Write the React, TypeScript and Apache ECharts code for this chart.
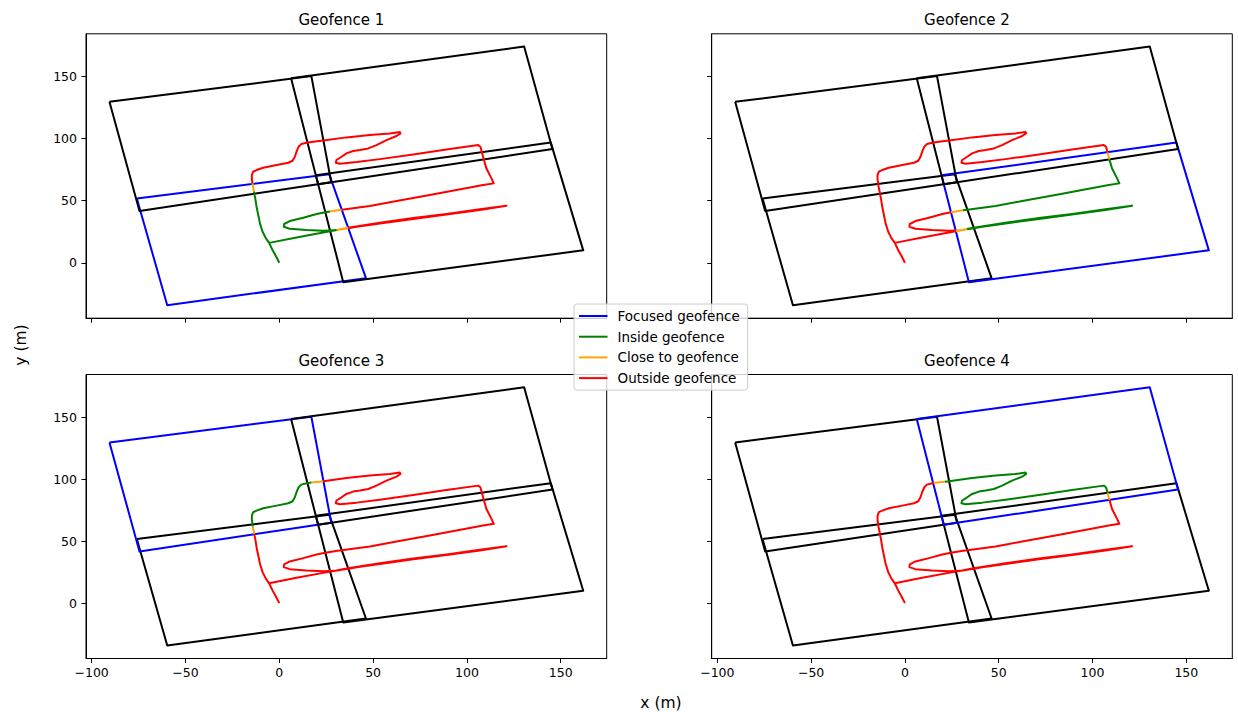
import React, { useEffect, useRef } from "react";
import * as echarts from "echarts";

// ---------- axis ranges & ticks ----------
const X_MIN = -103.0;
const X_MAX = 174.5;
const Y_MIN = -44.6;
const Y_MAX = 184.25;
const X_TICKS = [-100, -50, 0, 50, 100, 150];
const Y_TICKS = [0, 50, 100, 150];

const TITLES = ["Geofence 1", "Geofence 2", "Geofence 3", "Geofence 4"];
const LEGEND_NAMES = ["Focused geofence", "Inside geofence", "Close to geofence", "Outside geofence"];

// ---------- geofence polygons (x, y in m) ----------
const GEOFENCE_1 = [[-75.9, 51.7], [26.6, 71.3], [46.2, -12.4], [-59.7, -34.1]];
const GEOFENCE_2 = [[19.5, 70.4], [144.7, 96.7], [162.0, 10.0], [34.1, -15.6]];
const GEOFENCE_3 = [[-90.5, 129.5], [17.1, 150.2], [27.7, 64.8], [-74.5, 41.7]];
const GEOFENCE_4 = [[6.3, 148.4], [130.5, 174.0], [145.6, 91.5], [20.7, 63.2]];
const GEOFENCES = [GEOFENCE_1, GEOFENCE_2, GEOFENCE_3, GEOFENCE_4];

// ---------- vehicle track (x, y in m) ----------
const TRACK = [
  [0.0, 0.0], [-1.8, 5.4], [-3.6, 10.3], [-5.4, 16.0], [-7.1, 19.6],
  [-8.9, 25.0], [-10.3, 31.7], [-11.2, 38.4], [-12.1, 45.1], [-12.8, 51.8],
  [-13.3, 55.4], [-13.5, 57.4], [-14.1, 61.6], [-14.3, 64.0], [-14.6, 67.1],
  [-14.6, 70.6], [-13.9, 73.3], [-12.1, 74.6], [-8.6, 76.5], [-1.4, 78.6],
  [4.8, 80.5], [7.1, 82.1], [8.3, 85.3], [9.2, 89.4], [10.3, 93.4],
  [11.7, 95.5], [15.2, 96.8], [17.2, 97.2], [21.2, 97.9], [23.5, 98.3],
  [35.8, 100.9], [48.3, 102.8], [58.9, 104.1], [64.3, 105.2], [64.6, 104.1],
  [62.5, 102.0], [57.1, 98.7], [51.8, 94.7], [47.4, 92.0], [43.0, 90.7],
  [39.4, 89.9], [35.8, 88.0], [33.2, 85.3], [30.5, 82.7], [30.1, 80.5],
  [32.3, 79.7], [41.2, 81.0], [53.6, 83.4], [71.4, 87.2], [89.1, 91.2],
  [106.0, 94.7], [107.2, 93.4], [108.0, 89.0], [109.0, 83.2], [110.4, 75.9],
  [113.1, 67.9], [114.3, 63.9], [108.6, 62.5], [98.0, 59.6], [80.2, 54.5],
  [62.5, 49.7], [48.3, 45.6], [33.3, 42.7], [31.0, 42.2], [27.0, 41.3],
  [24.5, 40.6], [19.9, 39.2], [12.8, 36.3], [5.6, 33.6], [2.6, 31.2],
  [2.4, 29.0], [5.6, 27.4], [14.5, 26.3], [23.4, 25.8], [27.0, 26.0],
  [30.5, 26.3], [33.1, 27.1], [36.7, 28.2], [53.6, 32.2], [71.4, 36.0],
  [89.1, 39.2], [106.9, 43.0], [121.1, 45.9], [106.9, 42.5], [89.1, 38.8],
  [71.4, 35.3], [53.6, 31.6], [41.2, 28.9], [36.8, 27.8], [33.1, 26.9],
  [30.8, 26.3], [27.0, 25.4], [23.4, 24.4], [9.2, 20.4], [-5.4, 16.0],
];

// ---------- track state per subplot: [first segment index, state] ----------
const STATES_1 = [[0, "inside"], [11, "close"], [13, "outside"], [62, "close"], [64, "inside"], [75, "close"], [77, "outside"], [88, "close"], [90, "inside"]];
const STATES_2 = [[0, "outside"], [52, "close"], [53, "inside"], [63, "close"], [65, "outside"], [74, "close"], [76, "inside"], [89, "close"], [91, "outside"]];
const STATES_3 = [[0, "outside"], [10, "close"], [12, "inside"], [27, "close"], [29, "outside"]];
const STATES_4 = [[0, "outside"], [26, "close"], [28, "inside"], [52, "close"], [53, "outside"]];
const STATES = [STATES_1, STATES_2, STATES_3, STATES_4];

const COLORS: Record<string, string> = {
  focused: "#0000ff",
  other: "#000000",
  inside: "#008000",
  close: "#ffa500",
  outside: "#ff0000",
};
const STATE_NAMES: Record<string, string> = {
  inside: "Inside geofence",
  close: "Close to geofence",
  outside: "Outside geofence",
};

const GRIDS = [
  { left: 86, top: 33.8, width: 520.7, height: 284.4 },
  { left: 711.7, top: 33.8, width: 520.6, height: 284.4 },
  { left: 86, top: 374.5, width: 520.7, height: 284.0 },
  { left: 711.7, top: 374.5, width: 520.6, height: 284.0 },
];

const FONT = "DejaVu Sans";
const fmt = (v: number) => (v < 0 ? "\u2212" + Math.abs(v) : String(v));

function splitTrack(runs: any[]) {
  const out: Record<string, any[]> = { inside: [], close: [], outside: [] };
  const nSeg = TRACK.length - 1;
  for (let r = 0; r < runs.length; r++) {
    const start = runs[r][0];
    const state = runs[r][1];
    const end = r + 1 < runs.length ? runs[r + 1][0] : nSeg;
    for (let i = start; i <= end; i++) out[state].push(TRACK[i]);
    out[state].push([null, null]);
  }
  return out;
}

export default function App() {
  const ref = useRef<HTMLDivElement>(null);

  useEffect(() => {
    if (!ref.current) return;
    const chart = echarts.init(ref.current, undefined, { renderer: "svg" });

    const series: any[] = [];
    for (let s = 0; s < 4; s++) {
      GEOFENCES.forEach((poly, g) => {
        const focused = g === s;
        series.push({
          type: "line",
          name: focused ? "Focused geofence" : undefined,
          xAxisIndex: s,
          yAxisIndex: s,
          data: [...poly, poly[0]],
          symbol: "none",
          color: focused ? COLORS.focused : COLORS.other,
          lineStyle: { color: focused ? COLORS.focused : COLORS.other, width: 2, join: "round" },
          silent: true,
          z: 2,
        });
      });
      const parts = splitTrack(STATES[s]);
      ["inside", "close", "outside"].forEach((st) => {
        series.push({
          type: "line",
          name: STATE_NAMES[st],
          xAxisIndex: s,
          yAxisIndex: s,
          data: parts[st],
          symbol: "none",
          connectNulls: false,
          color: COLORS[st],
          lineStyle: { color: COLORS[st], width: 2, join: "round", cap: "butt" },
          silent: true,
          z: 3,
        });
      });
    }

    const option: any = {
      animation: false,
      textStyle: { fontFamily: FONT },
      grid: GRIDS.map((g) => ({
        ...g,
        show: true,
        borderColor: "#000",
        borderWidth: 1,
        backgroundColor: "transparent",
        containLabel: false,
      })),
      xAxis: GRIDS.map((_, i) => ({
        type: "value",
        gridIndex: i,
        min: X_MIN,
        max: X_MAX,
        axisLine: { show: true, onZero: false, lineStyle: { color: "#000", width: 1 } },
        axisTick: { show: true, inside: false, length: 4.5, lineStyle: { color: "#000", width: 1 }, customValues: X_TICKS },
        axisLabel: {
          show: i >= 2,
          customValues: X_TICKS,
          formatter: fmt,
          color: "#000",
          fontFamily: FONT,
          fontSize: 12.5,
          margin: 7,
        },
        splitLine: { show: false },
      })),
      yAxis: GRIDS.map((_, i) => ({
        type: "value",
        gridIndex: i,
        min: Y_MIN,
        max: Y_MAX,
        axisLine: { show: true, onZero: false, lineStyle: { color: "#000", width: 1 } },
        axisTick: { show: true, inside: false, length: 4.5, lineStyle: { color: "#000", width: 1 }, customValues: Y_TICKS },
        axisLabel: {
          show: i % 2 === 0,
          customValues: Y_TICKS,
          formatter: fmt,
          color: "#000",
          fontFamily: FONT,
          fontSize: 12.5,
          margin: 9,
        },
        splitLine: { show: false },
      })),
      legend: {
        data: LEGEND_NAMES,
        orient: "vertical",
        left: 574,
        top: 304,
        icon: "rect",
        itemWidth: 28.5,
        itemHeight: 2,
        itemGap: 6.7,
        padding: [5, 8, 5, 5],
        backgroundColor: "rgba(255,255,255,0.8)",
        borderColor: "#cccccc",
        borderWidth: 1,
        borderRadius: 3,
        selectedMode: false,
        textStyle: { fontFamily: FONT, fontSize: 13.5, color: "#000", lineHeight: 14, padding: [0, 0, 0, 5] },
        z: 10,
      },
      graphic: [
        ...TITLES.map((t, i) => ({
          type: "text",
          x: GRIDS[i].left + GRIDS[i].width / 2 - 5,
          y: GRIDS[i].top - 13.5,
          style: {
            text: t,
            fill: "#000",
            fontSize: 15,
            fontFamily: FONT,
            align: "center",
            verticalAlign: "middle",
            textAlign: "center",
            textVerticalAlign: "middle",
          },
        })),
        {
          type: "text",
          x: 661,
          y: 703,
          style: {
            text: "x (m)",
            fill: "#000",
            fontSize: 15.5,
            fontFamily: FONT,
            align: "center",
            verticalAlign: "middle",
            textAlign: "center",
            textVerticalAlign: "middle",
          },
        },
        {
          type: "text",
          x: 21,
          y: 345,
          rotation: Math.PI / 2,
          style: {
            text: "y (m)",
            fill: "#000",
            fontSize: 15.5,
            fontFamily: FONT,
            align: "center",
            verticalAlign: "middle",
            textAlign: "center",
            textVerticalAlign: "middle",
          },
        },
      ],
      series,
    };

    chart.setOption(option);
    return () => chart.dispose();
  }, []);

  return (
    <div
      ref={ref}
      style={{ position: "absolute", left: 0, top: 0, width: 1238, height: 712, background: "#fff" }}
    />
  );
}
